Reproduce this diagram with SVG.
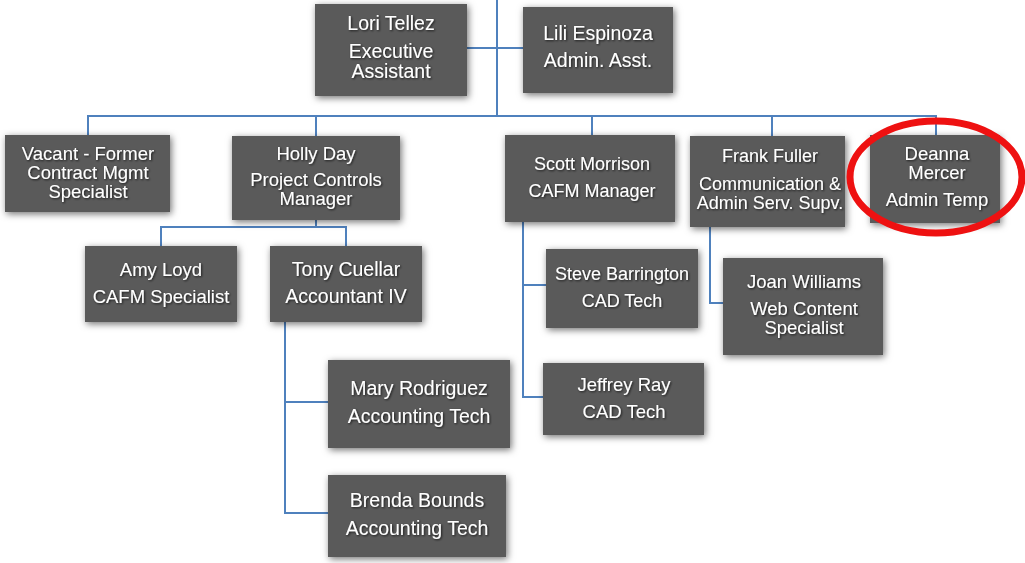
<svg xmlns="http://www.w3.org/2000/svg" width="1025" height="563" viewBox="0 0 1025 563">
<style>
.box{fill:#5a5a5a;filter:url(#sh)}
.t{fill:#fff;font-family:"Liberation Sans",Arial,sans-serif;font-size:18.5px;text-anchor:middle;filter:url(#ts)}
.big{font-size:19.5px}
.sm{font-size:18px}
.ln{fill:none;stroke:#4f81bd;stroke-width:2}
</style>
<defs>
<filter id="sh" x="-20%" y="-20%" width="140%" height="140%">
<feDropShadow dx="1.5" dy="2" stdDeviation="3.5" flood-color="#000" flood-opacity="0.55"/>
</filter>
<filter id="ts" x="-10%" y="-30%" width="120%" height="160%">
<feDropShadow dx="1" dy="1" stdDeviation="0.8" flood-color="#000" flood-opacity="0.7"/>
</filter>
</defs>
<rect width="1025" height="563" fill="#fff"/>
<g id="connectors" class="ln">
<path d="M497,0 V116"/>
<path d="M467,48 H523"/>
<path d="M88,135 V116 H936 V135"/>
<path d="M316,116 V136"/>
<path d="M592,116 V135"/>
<path d="M772,116 V136"/>
<path d="M316,220 V227"/>
<path d="M161,246 V227 H346 V246"/>
<path d="M285,322 V513 H328"/>
<path d="M285,402 H328"/>
<path d="M523,222 V397 H543"/>
<path d="M523,285 H546"/>
<path d="M710,227 V303 H723"/>
</g>
<g id="lori"><rect class="box" x="315" y="4" width="152" height="92"/>
<text class="t big" x="391" y="30">Lori Tellez</text><text class="t big" x="391" y="57.5">Executive</text><text class="t big" x="391" y="78">Assistant</text></g>
<g id="lili"><rect class="box" x="523" y="7" width="150" height="86"/>
<text class="t big" x="598" y="40">Lili Espinoza</text><text class="t big" x="598" y="67">Admin. Asst.</text></g>
<g id="vacant"><rect class="box" x="5" y="135" width="165" height="77"/>
<text class="t" x="88" y="160">Vacant - Former</text><text class="t" x="88" y="179">Contract Mgmt</text><text class="t" x="88" y="198">Specialist</text></g>
<g id="holly"><rect class="box" x="232" y="136" width="168" height="84"/>
<text class="t" x="316" y="160">Holly Day</text><text class="t" x="316" y="186">Project Controls</text><text class="t" x="316" y="205">Manager</text></g>
<g id="scott"><rect class="box" x="505" y="135" width="170" height="87"/>
<text class="t sm" x="592" y="170">Scott Morrison</text><text class="t sm" x="592" y="197">CAFM Manager</text></g>
<g id="frank"><rect class="box" x="690" y="136" width="155" height="91"/>
<text class="t sm" x="770" y="162">Frank Fuller</text><text class="t sm" x="770" y="190">Communication &amp;</text><text class="t sm" x="770" y="209">Admin Serv. Supv.</text></g>
<g id="deanna"><rect class="box" x="870" y="135" width="130" height="88"/>
<text class="t" x="937" y="160">Deanna</text><text class="t" x="937" y="179">Mercer</text><text class="t" x="937" y="206">Admin Temp</text>
<ellipse cx="936" cy="177" rx="86" ry="56" fill="none" stroke="#ee1111" stroke-width="7"/></g>
<g id="amy"><rect class="box" x="85" y="246" width="152" height="76"/>
<text class="t" x="161" y="276">Amy Loyd</text><text class="t" x="161" y="303">CAFM Specialist</text></g>
<g id="tony"><rect class="box" x="270" y="246" width="152" height="76"/>
<text class="t big" x="346" y="276">Tony Cuellar</text><text class="t big" x="346" y="303">Accountant IV</text></g>
<g id="steve"><rect class="box" x="546" y="249" width="152" height="79"/>
<text class="t sm" x="622" y="280">Steve Barrington</text><text class="t sm" x="622" y="307">CAD Tech</text></g>
<g id="jeffrey"><rect class="box" x="543" y="363" width="161" height="72"/>
<text class="t" x="624" y="391">Jeffrey Ray</text><text class="t" x="624" y="418">CAD Tech</text></g>
<g id="joan"><rect class="box" x="723" y="258" width="160" height="97"/>
<text class="t" x="804" y="288">Joan Williams</text><text class="t" x="804" y="315">Web Content</text><text class="t" x="804" y="334">Specialist</text></g>
<g id="mary"><rect class="box" x="328" y="360" width="182" height="88"/>
<text class="t big" x="419" y="395">Mary Rodriguez</text><text class="t big" x="419" y="423">Accounting Tech</text></g>
<g id="brenda"><rect class="box" x="328" y="475" width="178" height="82"/>
<text class="t big" x="417" y="507">Brenda Bounds</text><text class="t big" x="417" y="535">Accounting Tech</text></g>
</svg>
